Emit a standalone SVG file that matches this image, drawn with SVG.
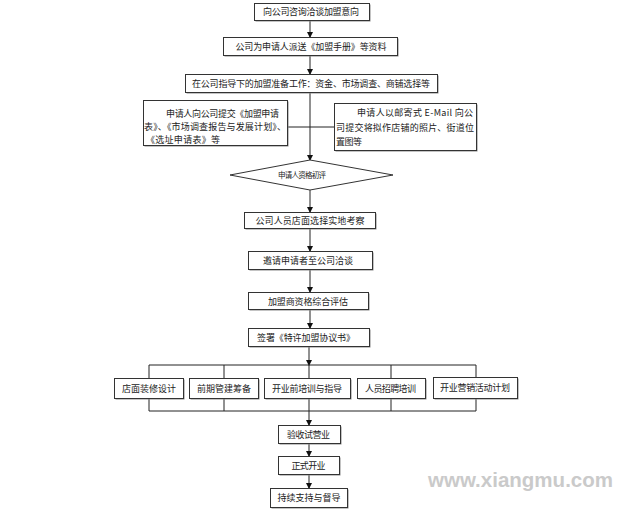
<svg xmlns="http://www.w3.org/2000/svg" width="644" height="516" viewBox="0 0 644 516">
<style>
.box{fill:#fff;stroke:#333;stroke-width:1}
.sh{fill:#888}
.t{font-family:"Noto Sans CJK SC","Liberation Serif",sans-serif;font-size:9px;fill:#222}
.c{text-anchor:middle}
.ln{stroke:#222;stroke-width:1;fill:none}
.wm{font-family:"Liberation Sans",Arial,sans-serif;font-weight:bold;font-size:21px;fill:#cacaca}
</style>
<defs>
<marker id="ah" markerWidth="6" markerHeight="6" refX="5" refY="3" orient="auto" markerUnits="userSpaceOnUse">
<path d="M0,0 L6,3 L0,6 Z" fill="#111"/>
</marker>
</defs>
<rect width="644" height="516" fill="#fff"/>

<g id="connectors">
<line class="ln" x1="310" y1="20" x2="310" y2="37" marker-end="url(#ah)"/>
<line class="ln" x1="310" y1="55" x2="310" y2="74" marker-end="url(#ah)"/>
<line class="ln" x1="310" y1="93" x2="310" y2="160" marker-end="url(#ah)"/>
<line class="ln" x1="288" y1="127" x2="335" y2="127"/>
<line class="ln" x1="310" y1="190" x2="310" y2="212" marker-end="url(#ah)"/>
<line class="ln" x1="310" y1="228" x2="310" y2="251" marker-end="url(#ah)"/>
<line class="ln" x1="310" y1="270" x2="310" y2="292" marker-end="url(#ah)"/>
<line class="ln" x1="310" y1="310" x2="310" y2="328" marker-end="url(#ah)"/>
<line class="ln" x1="309" y1="347" x2="309" y2="365" marker-end="url(#ah)"/>
<path class="ln" d="M149,378 V365 H476 V377 M224,365 V378 M309,365 V378 M391,365 V378"/>
<path class="ln" d="M149,398 V411 H476 V398 M224,398 V411 M309,398 V411 M391,398 V411"/>
<line class="ln" x1="309" y1="411" x2="309" y2="425" marker-end="url(#ah)"/>
<line class="ln" x1="309" y1="443" x2="309" y2="456" marker-end="url(#ah)"/>
<line class="ln" x1="309" y1="474" x2="309" y2="488" marker-end="url(#ah)"/>
</g>

<g id="n1"><rect class="sh" x="255.5" y="4.5" width="115" height="17"/><rect class="box" x="254.5" y="3.5" width="115" height="17"/>
<text class="t c" x="311" y="15" textLength="96" lengthAdjust="spacing">向公司咨询洽谈加盟意向</text></g>

<g id="n2"><rect class="sh" x="224.5" y="38.5" width="174" height="18"/><rect class="box" x="223.5" y="37.5" width="174" height="18"/>
<text class="t c" x="311" y="49.5" textLength="151" lengthAdjust="spacing">公司为申请人派送《加盟手册》等资料</text></g>

<g id="n3"><rect class="sh" x="186.5" y="75.5" width="252" height="18"/><rect class="box" x="185.5" y="74.5" width="252" height="18"/>
<text class="t c" x="311" y="87" textLength="238" lengthAdjust="spacing">在公司指导下的加盟准备工作：资金、市场调查、商铺选择等</text></g>

<g id="n4"><rect class="sh" x="144.5" y="101.5" width="144" height="45"/><rect class="box" x="143.5" y="100.5" width="144" height="45"/>
<text class="t" x="166" y="117" textLength="113" lengthAdjust="spacing">申请人向公司提交《加盟申请</text>
<text class="t" x="144" y="130" textLength="142" lengthAdjust="spacing">表》、《市场调查报告与发展计划》、</text>
<text class="t" x="146" y="143" textLength="74" lengthAdjust="spacing">《选址申请表》等</text></g>

<g id="n5"><rect class="sh" x="335.5" y="104.5" width="142" height="47"/><rect class="box" x="334.5" y="103.5" width="142" height="47"/>
<text class="t" x="357" y="116" textLength="116" lengthAdjust="spacing">申请人以邮寄式 E-Mail 向公</text>
<text class="t" x="336" y="131" textLength="138" lengthAdjust="spacing">司提交将拟作店铺的照片、街道位</text>
<text class="t" x="336" y="145" textLength="26" lengthAdjust="spacing">置图等</text></g>

<g id="n6"><polygon points="230,175 310,160 393,175 310,190" fill="#fff" stroke="#333" stroke-width="1"/>
<text class="t c" x="302" y="178" style="font-size:7.5px" textLength="48" lengthAdjust="spacing">申请人资格初评</text></g>

<g id="n7"><rect class="sh" x="245.5" y="213.5" width="131" height="16"/><rect class="box" x="244.5" y="212.5" width="131" height="16"/>
<text class="t c" x="310" y="223.5" textLength="109" lengthAdjust="spacing">公司人员店面选择实地考察</text></g>

<g id="n8"><rect class="sh" x="249.5" y="252.5" width="124" height="18"/><rect class="box" x="248.5" y="251.5" width="124" height="18"/>
<text class="t c" x="308" y="264" textLength="90" lengthAdjust="spacing">邀请申请者至公司洽谈</text></g>

<g id="n9"><rect class="sh" x="249.5" y="293.5" width="120" height="17"/><rect class="box" x="248.5" y="292.5" width="120" height="17"/>
<text class="t c" x="308" y="304.5" textLength="80" lengthAdjust="spacing">加盟商资格综合评估</text></g>

<g id="n10"><rect class="sh" x="249.5" y="329.5" width="121" height="18"/><rect class="box" x="248.5" y="328.5" width="121" height="18"/>
<text class="t c" x="306" y="341" textLength="98" lengthAdjust="spacing">签署《特许加盟协议书》</text></g>

<g id="n11"><rect class="sh" x="115.5" y="379.5" width="69" height="20"/><rect class="box" x="114.5" y="378.5" width="69" height="20"/>
<text class="t c" x="149" y="391.5" textLength="54" lengthAdjust="spacing">店面装修设计</text></g>

<g id="n12"><rect class="sh" x="190.5" y="379.5" width="69" height="20"/><rect class="box" x="189.5" y="378.5" width="69" height="20"/>
<text class="t c" x="224" y="391.5" textLength="54" lengthAdjust="spacing">前期管建筹备</text></g>

<g id="n13"><rect class="sh" x="265.5" y="379.5" width="86" height="20"/><rect class="box" x="264.5" y="378.5" width="86" height="20"/>
<text class="t c" x="307" y="391.5" textLength="70" lengthAdjust="spacing">开业前培训与指导</text></g>

<g id="n14"><rect class="sh" x="358.5" y="379.5" width="68" height="20"/><rect class="box" x="357.5" y="378.5" width="68" height="20"/>
<text class="t c" x="390.5" y="391.5" textLength="51" lengthAdjust="spacing">人员招聘培训</text></g>

<g id="n15"><rect class="sh" x="434.5" y="378.5" width="84" height="21"/><rect class="box" x="433.5" y="377.5" width="84" height="21"/>
<text class="t c" x="475" y="391" textLength="70" lengthAdjust="spacing">开业营销活动计划</text></g>

<g id="n16"><rect class="sh" x="279.5" y="426.5" width="62" height="18"/><rect class="box" x="278.5" y="425.5" width="62" height="18"/>
<text class="t c" x="308.5" y="438" textLength="43" lengthAdjust="spacing">验收试营业</text></g>

<g id="n17"><rect class="sh" x="279.5" y="457.5" width="61" height="18"/><rect class="box" x="278.5" y="456.5" width="61" height="18"/>
<text class="t c" x="308.5" y="469" textLength="34" lengthAdjust="spacing">正式开业</text></g>

<g id="n18"><rect class="sh" x="271.5" y="489.5" width="77" height="19"/><rect class="box" x="270.5" y="488.5" width="77" height="19"/>
<text class="t c" x="309" y="501" textLength="63" lengthAdjust="spacing">持续支持与督导</text></g>

<text class="wm" x="428" y="487" textLength="185" lengthAdjust="spacingAndGlyphs">www.xiangmu.com</text>
</svg>
